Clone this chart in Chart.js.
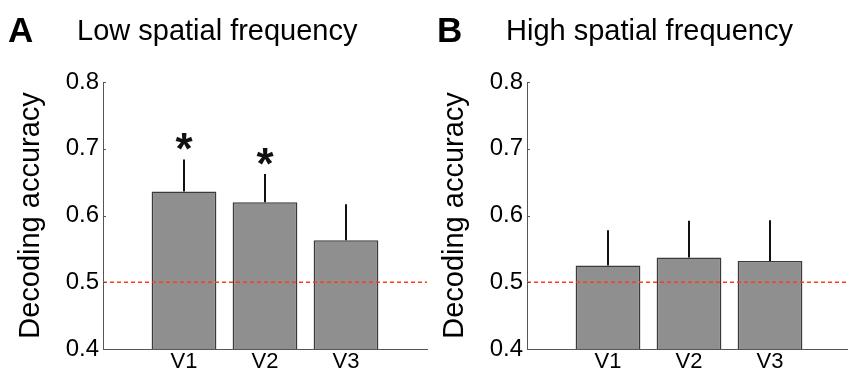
<!DOCTYPE html>
<html>
<head>
<meta charset="utf-8">
<script src="https://cdn.jsdelivr.net/npm/chart.js@4/dist/chart.umd.min.js"></script>
<style>
    html, body { margin: 0; padding: 0; background: #fff; overflow: hidden; }
    #wrap { position: relative; width: 848px; height: 372px; overflow: hidden; }
    canvas { position: absolute; top: 0; }
    #a { left: 0; }
    #b { left: 424px; }
</style>
</head>
<body>
<div id="wrap">
    <canvas id="a" width="440" height="372"></canvas>
    <canvas id="b" width="440" height="372"></canvas>
</div>
<script>
const regions = ['V1', 'V2', 'V3'];
const lowMean = [0.636, 0.620, 0.563];
const lowErr = [0.048, 0.042, 0.054];
const lowSig = [true, true, false];
const highMean = [0.525, 0.537, 0.532];
const highErr = [0.053, 0.055, 0.061];
const highSig = [false, false, false];
const chance = 0.5;
const yTicks = [0.4, 0.5, 0.6, 0.7, 0.8];

(function () {

    const FONT = "'Liberation Sans', Arial, Helvetica, sans-serif";

    let chart = function (el, panel) {

        const ctx = el.getContext('2d');

        // bars sit on x = 1..3, axis runs 0..4 like the matlab figure
        const barData = panel.mean.map(function (v, i) {
            return {x: i + 1, y: v};
        });

        const extras = {
            id: 'extras',
            afterDatasetsDraw: function (c) {
                const g = c.ctx;
                const y = c.scales.y;
                const meta = c.getDatasetMeta(1);
                g.save();
                g.strokeStyle = '#111';
                g.lineWidth = 2;
                meta.data.forEach(function (bar, i) {
                    const top = y.getPixelForValue(panel.mean[i] + panel.err[i]);
                    g.beginPath();
                    g.moveTo(bar.x, bar.y);
                    g.lineTo(bar.x, top);
                    g.stroke();
                    if (panel.sig[i]) {
                        g.fillStyle = '#111';
                        g.font = 'bold 44px ' + FONT;
                        g.textAlign = 'center';
                        g.textBaseline = 'alphabetic';
                        g.fillText('*', bar.x, top - 17 + 22);
                    }
                });
                // small inward ticks on the y axis
                g.strokeStyle = '#555';
                g.lineWidth = 1;
                yTicks.forEach(function (v) {
                    const py = Math.round(y.getPixelForValue(v)) + 0.5;
                    g.beginPath();
                    g.moveTo(c.chartArea.left, py);
                    g.lineTo(c.chartArea.left + 3, py);
                    g.stroke();
                });
                g.restore();
            },
            afterDraw: function (c) {
                const g = c.ctx;
                g.save();
                g.fillStyle = '#000';
                g.textBaseline = 'alphabetic';
                g.textAlign = 'left';
                g.font = 'bold 35px ' + FONT;
                g.fillText(panel.letter, panel.letterX, 42);
                g.font = '29px ' + FONT;
                g.fillText(panel.title, panel.titleX, 40);
                g.restore();
            }
        };

        const config = {
            data: {
                datasets: [{
                        type: 'line',
                        data: [{x: 0, y: chance}, {x: 4, y: chance}],
                        borderColor: '#ff3b1c',
                        borderWidth: 1.3,
                        borderDash: [4, 3],
                        pointRadius: 0,
                        order: 0
                    }, {
                        type: 'bar',
                        data: barData,
                        backgroundColor: '#8f8f8f',
                        borderColor: '#3a3a3a',
                        borderWidth: 1.5,
                        borderSkipped: false,
                        categoryPercentage: 1,
                        barPercentage: 0.8,
                        order: 1
                    }]
            },
            options: {
                animation: false,
                responsive: false,
                layout: {
                    padding: {top: 82, left: 0, right: 13, bottom: 0}
                },
                scales: {
                    x: {
                        type: 'linear',
                        min: 0,
                        max: 4,
                        offset: false,
                        afterFit: function (s) {
                            s.height = 23;
                        },
                        afterBuildTicks: function (s) {
                            s.ticks = [0, 1, 2, 3, 4].map(function (v) {
                                return {value: v};
                            });
                        },
                        grid: {display: false, drawTicks: false},
                        border: {display: true, color: '#555', width: 1},
                        ticks: {
                            color: '#000',
                            padding: 0,
                            maxRotation: 0,
                            autoSkip: false,
                            font: {family: FONT, size: 22},
                            callback: function (v) {
                                return regions[v - 1] || '';
                            }
                        }
                    },
                    y: {
                        min: 0.4,
                        max: 0.8,
                        afterFit: function (s) {
                            s.width = 103;
                        },
                        afterBuildTicks: function (s) {
                            s.ticks = yTicks.map(function (v) {
                                return {value: v};
                            });
                        },
                        grid: {display: false, drawTicks: false},
                        border: {display: true, color: '#555', width: 1},
                        title: {
                            display: true,
                            text: 'Decoding accuracy',
                            color: '#000',
                            padding: {top: 14, bottom: 0},
                            font: {family: FONT, size: 29}
                        },
                        ticks: {
                            color: '#000',
                            padding: 4,
                            font: {family: FONT, size: 24},
                            callback: function (v) {
                                return v.toFixed(1);
                            }
                        }
                    }
                },
                plugins: {
                    title: {display: false},
                    legend: {display: false},
                    tooltip: {enabled: false}
                }
            },
            plugins: [extras]
        };

        return new Chart(ctx, config);
    };

    chart(document.getElementById('a'), {
        mean: lowMean, err: lowErr, sig: lowSig,
        letter: 'A', letterX: 8, title: 'Low spatial frequency', titleX: 77
    });
    chart(document.getElementById('b'), {
        mean: highMean, err: highErr, sig: highSig,
        letter: 'B', letterX: 13, title: 'High spatial frequency', titleX: 82
    });
})();
</script>
</body>
</html>
